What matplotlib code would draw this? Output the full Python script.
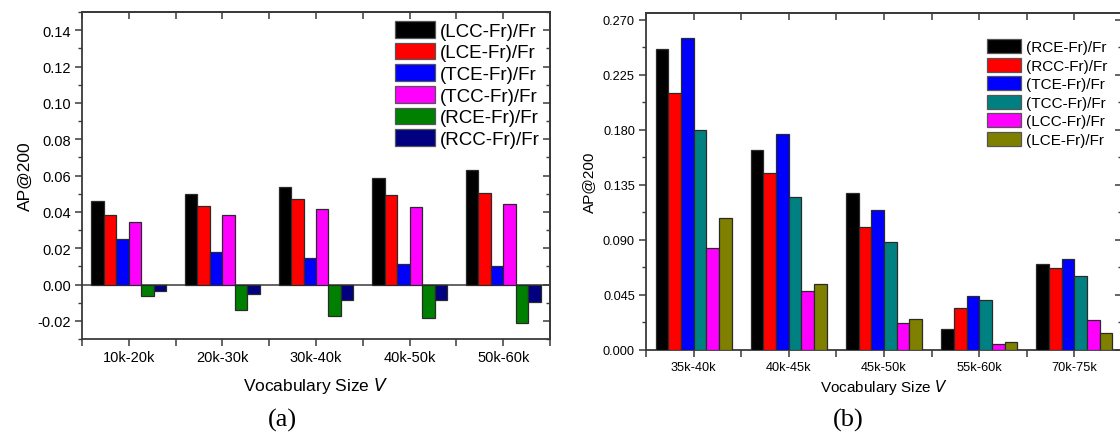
import matplotlib
matplotlib.use("Agg")
import matplotlib.pyplot as plt
import numpy as np

plt.rcParams["font.family"] = ["Liberation Sans", "DejaVu Sans"]

# ---- data: panel (a) ----
CATS_A = ["10k-20k", "20k-30k", "30k-40k", "40k-50k", "50k-60k"]
SERIES_A = ["(LCC-Fr)/Fr", "(LCE-Fr)/Fr", "(TCE-Fr)/Fr", "(TCC-Fr)/Fr",
            "(RCE-Fr)/Fr", "(RCC-Fr)/Fr"]
LCC_A = [0.0460, 0.0499, 0.0539, 0.0584, 0.0628]
LCE_A = [0.0384, 0.0433, 0.0473, 0.0493, 0.0506]
TCE_A = [0.0252, 0.0179, 0.0144, 0.0115, 0.0104]
TCC_A = [0.0343, 0.0384, 0.0418, 0.0429, 0.0444]
RCE_A = [-0.0062, -0.0139, -0.0172, -0.0183, -0.0210]
RCC_A = [-0.0037, -0.0055, -0.0084, -0.0086, -0.0095]
COLORS_A = ["#000000", "#ff0000", "#0000ff", "#ff00ff", "#008000", "#000080"]

# ---- data: panel (b) ----
CATS_B = ["35k-40k", "40k-45k", "45k-50k", "55k-60k", "70k-75k"]
SERIES_B = ["(RCE-Fr)/Fr", "(RCC-Fr)/Fr", "(TCE-Fr)/Fr", "(TCC-Fr)/Fr",
            "(LCC-Fr)/Fr", "(LCE-Fr)/Fr"]
RCE_B = [0.2463, 0.1631, 0.1286, 0.0174, 0.0704]
RCC_B = [0.2102, 0.1444, 0.1009, 0.0340, 0.0669]
TCE_B = [0.2548, 0.1767, 0.1145, 0.0438, 0.0742]
TCC_B = [0.1795, 0.1251, 0.0886, 0.0405, 0.0601]
LCC_B = [0.0837, 0.0479, 0.0223, 0.0049, 0.0247]
LCE_B = [0.1082, 0.0538, 0.0250, 0.0063, 0.0136]
COLORS_B = ["#000000", "#ff0000", "#0000ff", "#008080", "#ff00ff", "#808000"]

SPINE = "#3a3a3a"
W, H = 1120, 435


def axes_rect(left, right, top, bottom):
    """Pixel box -> figure fraction rect."""
    return [left / W, 1 - bottom / H, (right - left) / W, (bottom - top) / H]


def grouped_bars(ax, cats, series, values, colors):
    x = np.arange(len(cats))
    n = len(series)
    bw = 0.8 / n
    for i, (name, vals, col) in enumerate(zip(series, values, colors)):
        ax.bar(x - 0.4 + bw * (i + 0.5), vals, bw, color=col,
               edgecolor="#2a2a2a", linewidth=0.9, label=name, zorder=3)
    return x


def style_axes(ax, x, cats, yticks, yminor, tick_fs):
    ax.set_xlim(-0.5, len(cats) - 0.5)
    ax.set_xticks(x)
    ax.set_xticklabels(cats, fontsize=tick_fs)
    ax.set_xticks(np.arange(len(cats) + 1) - 0.5, minor=True)
    ax.set_yticks(yticks)
    ax.set_yticks(yminor, minor=True)
    for s in ax.spines.values():
        s.set_color(SPINE)
        s.set_linewidth(1.3)
    ax.tick_params(axis="both", which="major", direction="out", length=5,
                   width=1.1, color=SPINE, labelsize=tick_fs, pad=3)
    ax.tick_params(axis="y", which="minor", direction="out", length=3,
                   width=1.0, color=SPINE)
    ax.tick_params(axis="x", which="minor", direction="out", length=5,
                   width=1.1, color=SPINE)

    # mirrored ticks on top / right, pointing inward
    top = ax.secondary_xaxis("top")
    top.set_xticks(x)
    top.set_xticks(np.arange(len(cats) + 1) - 0.5, minor=True)
    top.tick_params(which="both", direction="in", length=5, width=1.1,
                    color=SPINE, labeltop=False)
    top.spines["top"].set_color(SPINE)
    top.spines["top"].set_linewidth(1.3)
    right = ax.secondary_yaxis("right")
    right.set_yticks(yticks)
    right.set_yticks(yminor, minor=True)
    right.tick_params(which="major", direction="in", length=5, width=1.1,
                      color=SPINE, labelright=False)
    right.tick_params(which="minor", direction="in", length=3, width=1.0,
                      color=SPINE)
    right.spines["right"].set_color(SPINE)
    right.spines["right"].set_linewidth(1.3)


def main():
    fig = plt.figure(figsize=(W / 100, H / 100), dpi=100)

    # ---------- panel (a) ----------
    ax = fig.add_axes(axes_rect(82, 550, 13, 340))
    x = grouped_bars(ax, CATS_A, SERIES_A,
                     [LCC_A, LCE_A, TCE_A, TCC_A, RCE_A, RCC_A], COLORS_A)
    ax.axhline(0, color=SPINE, linewidth=1.1, zorder=2)
    ax.set_ylim(-0.03, 0.15)
    style_axes(ax, x, CATS_A, np.arange(-0.02, 0.141, 0.02),
               np.arange(-0.03, 0.151, 0.01), 10.5)
    ax.yaxis.set_major_formatter(plt.FormatStrFormatter("%.2f"))
    ax.set_ylabel("AP@200", fontsize=12.5, labelpad=3)
    ax.set_xlabel("Vocabulary Size $\\mathit{V}$", fontsize=12.5, labelpad=8)
    ax.legend(loc="upper left", bbox_to_anchor=(395 / W, 1 - 22 / H),
              bbox_transform=fig.transFigure, frameon=False, fontsize=13.5,
              borderpad=0, borderaxespad=0, handlelength=2.13,
              handleheight=1.0, labelspacing=0.15, handletextpad=0.27)
    for p in ax.get_legend().get_patches():
        p.set_edgecolor("#555555")

    # ---------- panel (b) ----------
    bx = fig.add_axes(axes_rect(646, 1122, 14, 351))
    xb = grouped_bars(bx, CATS_B, SERIES_B,
                      [RCE_B, RCC_B, TCE_B, TCC_B, LCC_B, LCE_B], COLORS_B)
    bx.set_ylim(0, 0.2755)
    style_axes(bx, xb, CATS_B, np.arange(0, 0.271, 0.045),
               np.arange(0, 0.271, 0.0225), 9.2)
    bx.yaxis.set_major_formatter(plt.FormatStrFormatter("%.3f"))
    bx.set_ylabel("AP@200", fontsize=11, labelpad=5)
    bx.set_xlabel("Vocabulary Size $\\mathit{V}$", fontsize=11, labelpad=3)
    bx.legend(loc="upper left", bbox_to_anchor=(987 / W, 1 - 40 / H),
              bbox_transform=fig.transFigure, frameon=False, fontsize=11,
              borderpad=0, borderaxespad=0, handlelength=2.22,
              handleheight=1.05, labelspacing=0.21, handletextpad=0.33)
    for p in bx.get_legend().get_patches():
        p.set_edgecolor("#555555")

    # panel captions
    fig.text(282 / W, 1 - 420 / H, "(a)", ha="center", va="center",
             fontsize=19, family="Liberation Serif")
    fig.text(848 / W, 1 - 420 / H, "(b)", ha="center", va="center",
             fontsize=19, family="Liberation Serif")

    fig.savefig("out.png", dpi=100)
    plt.close(fig)


if __name__ == "__main__":
    main()
